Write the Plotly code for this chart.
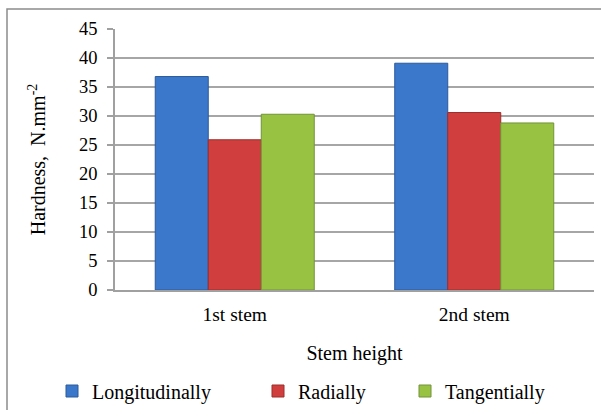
import plotly.graph_objects as go

categories = ["1st stem", "2nd stem"]
longitudinally = [36.8, 39.1]
radially = [25.9, 30.6]
tangentially = [30.3, 28.8]
series_names = ["Longitudinally", "Radially", "Tangentially"]
y_ticks = [0, 5, 10, 15, 20, 25, 30, 35, 40, 45]

colors = ["#3b78cc", "#d03f3d", "#98c342"]
line_colors = ["#2c5a98", "#9a2e2c", "#73923a"]
legends = ["legend", "legend2", "legend3"]

FAM = "Times New Roman, Liberation Serif, serif"

fig = go.Figure()
for name, vals, c, lc, lg in zip(series_names, [longitudinally, radially, tangentially],
                                 colors, line_colors, legends):
    fig.add_trace(go.Bar(x=categories, y=vals, name=name, legend=lg,
                         marker=dict(color=c, line=dict(color=lc, width=1))))

ly = -(391 - 290) / 261
leg_font = dict(family=FAM, size=20, color="#000000")

fig.update_layout(
    width=601, height=410,
    margin=dict(l=115, r=7, t=29, b=120, autoexpand=False),
    paper_bgcolor="white", plot_bgcolor="white",
    font=dict(family=FAM, size=18, color="#000000"),
    bargap=0.336, bargroupgap=0,
    showlegend=True,
    legend=dict(orientation="h", x=(52 - 115) / 479, y=ly, xanchor="left", yanchor="middle",
                font=leg_font, bgcolor="rgba(0,0,0,0)", itemwidth=30),
    legend2=dict(orientation="h", x=(258 - 115) / 479, y=ly, xanchor="left", yanchor="middle",
                 font=leg_font, bgcolor="rgba(0,0,0,0)", itemwidth=30),
    legend3=dict(orientation="h", x=(405 - 115) / 479, y=ly, xanchor="left", yanchor="middle",
                 font=leg_font, bgcolor="rgba(0,0,0,0)", itemwidth=30),
    xaxis=dict(showline=True, linecolor="#a0a0a0", linewidth=1.5, ticks="",
               tickfont=dict(family=FAM, size=19.5, color="#000000"), ticklabelstandoff=6,
               title=dict(text="Stem height", font=dict(family=FAM, size=20, color="#000000"), standoff=22)),
    yaxis=dict(range=[0, 45], tickvals=y_ticks, showgrid=True, gridcolor="#a6a6a6", gridwidth=1.5,
               showline=True, linecolor="#a0a0a0", linewidth=1.5, ticks="outside", ticklen=6,
               tickcolor="#a0a0a0", tickwidth=1.5, ticklabelstandoff=6,
               tickfont=dict(family=FAM, size=18.5, color="#000000"),
               title=dict(text="Hardness,  N.mm<sup>-2</sup>",
                          font=dict(family=FAM, size=20, color="#000000"), standoff=28)),
    shapes=[dict(type="rect", xref="paper", yref="paper",
                 x0=(7 - 115) / 479, x1=1.2, y0=-0.7, y1=1 + (29 - 9) / 261,
                 line=dict(color="#8c8c8c", width=1.5), fillcolor="rgba(0,0,0,0)", layer="below")],
)

fig.write_html("out.html", config={"displayModeBar": False},
               post_script="document.body.style.margin='0';document.body.style.overflow='hidden';")
